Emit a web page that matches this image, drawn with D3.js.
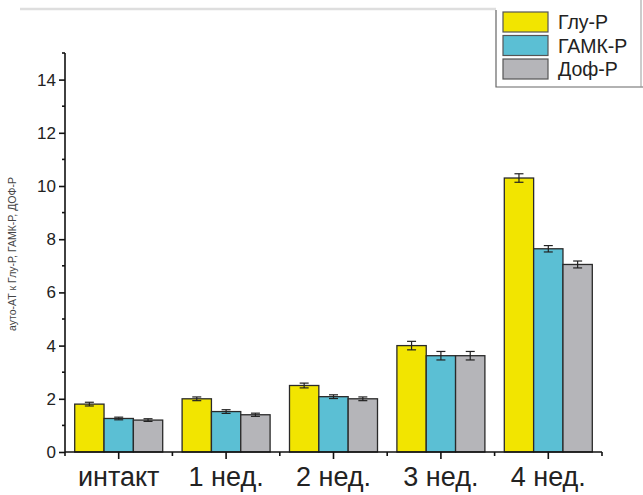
<!DOCTYPE html>
<html>
<head>
<meta charset="utf-8">
<script src="https://cdn.jsdelivr.net/npm/d3@7"></script>
<style>
  body { margin: 0; background: #fff; }
  text { font-family: Arial, "Liberation Sans", sans-serif; }
</style>
</head>
<body>
<svg id="chart" width="643" height="495"></svg>
<script>
// data
const categories = ["интакт", "1 нед.", "2 нед.", "3 нед.", "4 нед."];
const seriesNames = ["Глу-Р", "ГАМК-Р", "Доф-Р"];
const gluValues = [1.8, 2.0, 2.5, 4.0, 10.3];
const gabaValues = [1.26, 1.52, 2.08, 3.62, 7.64];
const dofValues = [1.2, 1.4, 2.0, 3.62, 7.05];
const gluErr = [0.07, 0.07, 0.09, 0.16, 0.16];
const gabaErr = [0.05, 0.07, 0.07, 0.16, 0.12];
const dofErr = [0.05, 0.06, 0.07, 0.16, 0.13];
const yTicks = [0, 2, 4, 6, 8, 10, 12, 14];

const colors = {"Глу-Р": "#f2e500", "ГАМК-Р": "#5bbfd4", "Доф-Р": "#b5b5b9"};
const values = [gluValues, gabaValues, dofValues];
const errs = [gluErr, gabaErr, dofErr];

const svg = d3.select("#chart");
const margin = {top: 53, right: 41, bottom: 43, left: 65};
const width = 643 - margin.left - margin.right;
const height = 495 - margin.top - margin.bottom;

const g = svg.append("g")
  .attr("transform", `translate(${margin.left},${margin.top})`);

const x = d3.scaleBand().domain(categories).range([0, width]);
const xs = d3.scaleBand().domain(seriesNames)
  .range([x.bandwidth() / 2 - 44, x.bandwidth() / 2 + 44]);
const y = d3.scaleLinear().domain([0, 15]).range([height, 0]);

// top decoration line and legend frame
svg.append("line").attr("x1", 20).attr("x2", 496).attr("y1", 9).attr("y2", 9)
  .attr("stroke", "#dedede").attr("stroke-width", 2.5);
svg.append("path").attr("d", "M496,10V87H643")
  .attr("fill", "none").attr("stroke", "#666").attr("stroke-width", 1.2);
svg.append("line").attr("x1", 641).attr("x2", 641).attr("y1", 0).attr("y2", 87)
  .attr("stroke", "#999").attr("stroke-width", 1);

// bars
seriesNames.forEach((s, si) => {
  const grp = g.append("g");
  grp.selectAll("rect").data(categories).enter().append("rect")
    .attr("x", c => x(c) + xs(s))
    .attr("y", (c, i) => y(values[si][i]))
    .attr("width", xs.bandwidth())
    .attr("height", (c, i) => y(0) - y(values[si][i]))
    .attr("fill", colors[s])
    .attr("stroke", "#2a2a2a")
    .attr("stroke-width", 1.3);

  // error bars
  categories.forEach((c, i) => {
    const cx = x(c) + xs(s) + xs.bandwidth() / 2;
    const v = values[si][i], e = errs[si][i];
    grp.append("line").attr("x1", cx).attr("x2", cx)
      .attr("y1", y(v - e)).attr("y2", y(v + e))
      .attr("stroke", "#222").attr("stroke-width", 1.2);
    [v - e, v + e].forEach(yy => {
      grp.append("line").attr("x1", cx - 4.5).attr("x2", cx + 4.5)
        .attr("y1", y(yy)).attr("y2", y(yy))
        .attr("stroke", "#222").attr("stroke-width", 1.2);
    });
  });
});

// y axis
const yAxis = d3.axisLeft(y).tickValues(yTicks).tickSize(6).tickPadding(3);
const ya = g.append("g").call(yAxis);
ya.select(".domain").attr("d", `M0,${y(0)}V${y(15)}`).attr("stroke", "#111").attr("stroke-width", 1.6);
ya.selectAll(".tick line").attr("stroke", "#111").attr("stroke-width", 1.6);
ya.selectAll(".tick text").attr("font-size", 17).attr("fill", "#222");
g.append("g").selectAll("line").data([1, 3, 5, 7, 9, 11, 13, 15]).enter().append("line")
  .attr("x1", -3).attr("x2", 0).attr("y1", d => y(d)).attr("y2", d => y(d))
  .attr("stroke", "#111").attr("stroke-width", 1.6);

// x axis
const xAxis = d3.axisBottom(x).tickSize(7).tickPadding(8);
const xa = g.append("g").attr("transform", `translate(0,${height})`).call(xAxis);
xa.select(".domain").attr("d", `M0,0H${width}`).attr("stroke", "#111").attr("stroke-width", 1.6);
xa.selectAll(".tick line").attr("stroke", "#111").attr("stroke-width", 1.6);
xa.selectAll(".tick text").attr("font-size", 27).attr("fill", "#222");
g.append("g").selectAll("line").data(d3.range(categories.length + 1)).enter().append("line")
  .attr("x1", i => i * x.step()).attr("x2", i => i * x.step())
  .attr("y1", height).attr("y2", height + 4)
  .attr("stroke", "#111").attr("stroke-width", 1.6);

// y axis title
svg.append("text")
  .attr("transform", "translate(16,254) rotate(-90)")
  .attr("text-anchor", "middle")
  .attr("font-size", 10.5)
  .attr("fill", "#444")
  .text("ауто-АТ к Глу-Р, ГАМК-Р, ДОФ-Р");

// legend
const leg = svg.append("g").attr("transform", "translate(503,12)");
seriesNames.forEach((s, i) => {
  leg.append("rect").attr("x", 0).attr("y", i * 23.5).attr("width", 45).attr("height", 20)
    .attr("fill", colors[s]).attr("stroke", "#555").attr("stroke-width", 1.2);
  leg.append("text").attr("x", 55).attr("y", i * 23.5 + 17)
    .attr("font-size", 19.5).attr("fill", "#222").text(s);
});
</script>
</body>
</html>
